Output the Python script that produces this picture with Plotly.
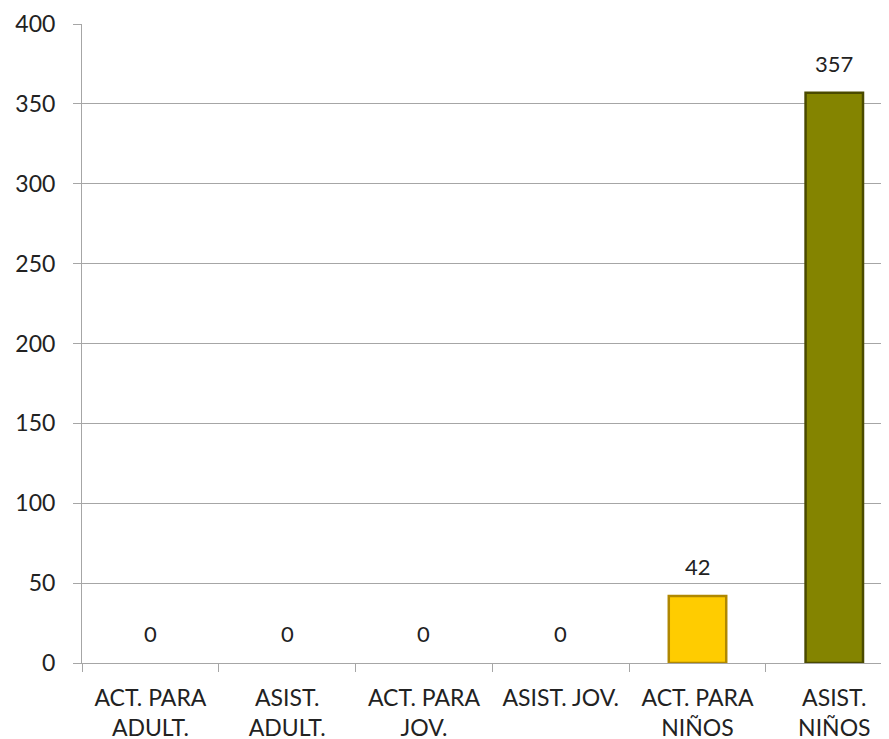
import plotly.graph_objects as go

categories = ["ACT. PARA<br>ADULT.", "ASIST.<br>ADULT.", "ACT. PARA<br>JOV.",
              "ASIST. JOV.", "ACT. PARA<br>NIÑOS", "ASIST.<br>NIÑOS"]
values = [0, 0, 0, 0, 42, 357]
bar_colors = ["#FFCC00", "#FFCC00", "#FFCC00", "#FFCC00", "#FFCC00", "#848400"]
edge_colors = ["#B08800", "#B08800", "#B08800", "#B08800", "#B08800", "#4A4A00"]
y_ticks = [0, 50, 100, 150, 200, 250, 300, 350, 400]

font_family = "Lato, 'Open Sans', sans-serif"
text_color = "#222222"
grid_color = "#A6A6A6"

fig = go.Figure()
fig.add_trace(go.Bar(
    x=categories,
    y=values,
    width=0.42,
    marker=dict(color=bar_colors,
                line=dict(color=edge_colors,
                          width=[0 if v == 0 else 2.5 for v in values])),
    hoverinfo="x+y",
))

for c, v in zip(categories, values):
    fig.add_annotation(x=c, y=v, text=str(v), showarrow=False,
                       yanchor="bottom", yshift=14,
                       font=dict(family=font_family, size=22, color=text_color))

# page body has an 8px margin; size/margins compensate for it
fig.update_layout(
    width=881,
    height=731,
    margin=dict(l=74, r=0, t=16, b=76),
    paper_bgcolor="white",
    plot_bgcolor="white",
    showlegend=False,
    font=dict(family=font_family, size=22, color=text_color),
)
fig.update_yaxes(
    range=[0, 400],
    tickvals=y_ticks,
    showgrid=True,
    gridcolor=grid_color,
    gridwidth=1,
    showline=True,
    linecolor=grid_color,
    linewidth=1,
    ticks="outside",
    ticklen=8,
    tickcolor=grid_color,
    zeroline=False,
    automargin=False,
    tickfont=dict(family=font_family, size=23, color=text_color),
    ticklabelstandoff=13,
)
fig.update_xaxes(
    range=[-0.5, 5.4],
    showline=True,
    linecolor=grid_color,
    linewidth=1,
    ticks="outside",
    tickson="boundaries",
    ticklen=8,
    tickcolor=grid_color,
    showgrid=False,
    automargin=False,
    tickfont=dict(family=font_family, size=23, color=text_color),
    ticklabelstandoff=14,
)

fig.write_html("out.html")
